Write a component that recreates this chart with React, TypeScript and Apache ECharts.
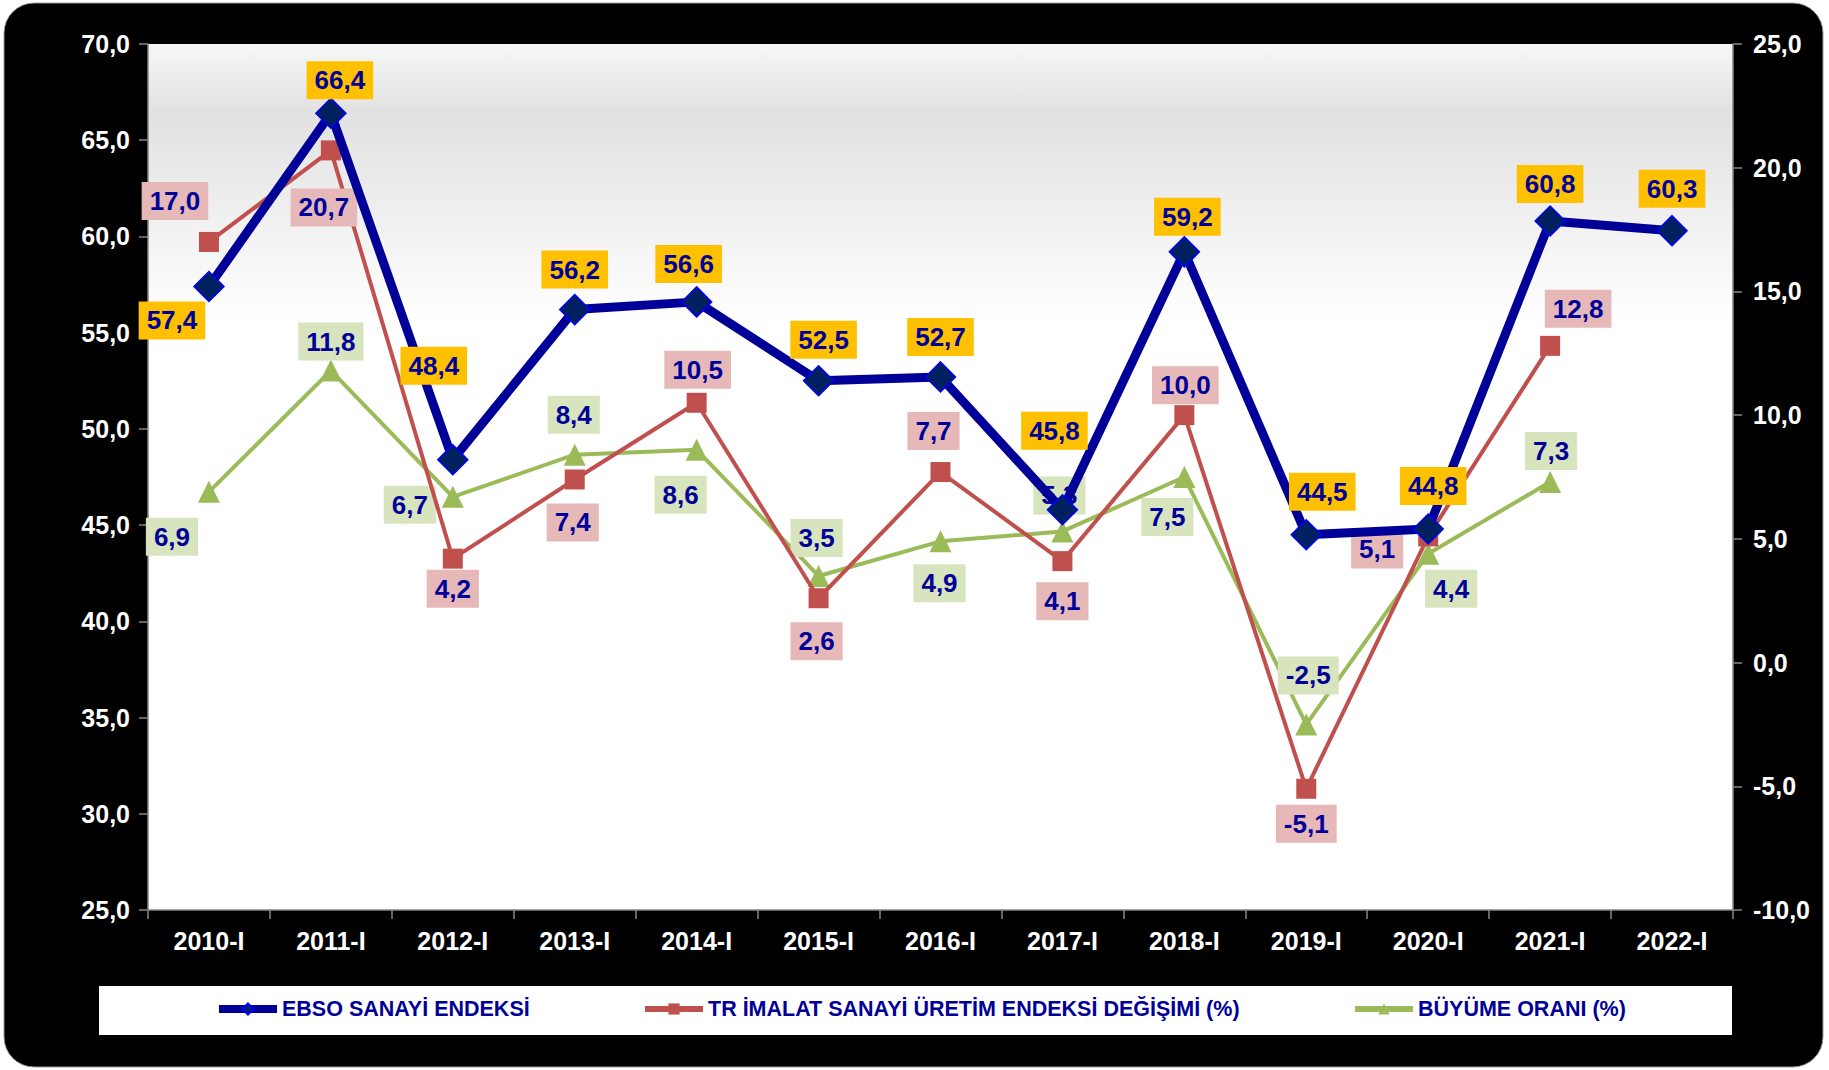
import React, { useEffect, useRef } from 'react';
import * as echarts from 'echarts';

const categories = ['2010-I', '2011-I', '2012-I', '2013-I', '2014-I', '2015-I', '2016-I', '2017-I', '2018-I', '2019-I', '2020-I', '2021-I', '2022-I'];
const ebsoValues = [57.4, 66.4, 48.4, 56.2, 56.6, 52.5, 52.7, 45.8, 59.2, 44.5, 44.8, 60.8, 60.3];
const trImalatValues = [17.0, 20.7, 4.2, 7.4, 10.5, 2.6, 7.7, 4.1, 10.0, -5.1, 5.1, 12.8, null];
const buyumeValues = [6.9, 11.8, 6.7, 8.4, 8.6, 3.5, 4.9, 5.3, 7.5, -2.5, 4.4, 7.3, null];

const leftAxisRange = { min: 25, max: 70, interval: 5 };
const rightAxisRange = { min: -10, max: 25, interval: 5 };

// label offsets (layout only, px relative to marker centre)
const ebsoLabelOffsets = [[-37, 34], [9, -33], [-19, -94], [0, -40], [-8, -38], [5, -41], [0, -40], [-8, -79], [3, -35], [16, -43], [5, -43], [0, -37], [0, -42]];
const trLabelOffsets = [[-34, -41], [-7, 57], [0, 30], [-2, 43], [1, -33], [-2, 43], [-7, -41], [0, 40], [1, -30], [0, 35], [-51, 13], [28, -37], [0, 0]];
const buyumeLabelOffsets = [[-37, 45], [0, -29], [-43, 8], [-1, -40], [-16, 45], [-2, -38], [-1, 42], [-3, -36], [-17, 40], [2, -49], [23, 35], [1, -31], [0, 0]];

const W = 1829;
const H = 1070;
const GRID = { left: 148, top: 44, right: 96, bottom: 160 };
const FONT = '"Liberation Sans", Arial, sans-serif';
const NAVY = '#000099';

const fmt = (v: number) => v.toFixed(1).replace('.', ',');

function mkData(values: (number | null)[], offsets: number[][]) {
  return values.map((v, i) => (v === null ? null : { value: v, label: { offset: offsets[i] } }));
}

function labelStyle(bg: string) {
  return {
    show: true,
    position: 'inside',
    formatter: (p: any) => fmt(p.value),
    backgroundColor: bg,
    color: NAVY,
    fontFamily: FONT,
    fontWeight: 'bold',
    fontSize: 26,
    padding: [7, 8, 5, 8],
  };
}

export default function App() {
  const ref = useRef<HTMLDivElement>(null);
  useEffect(() => {
    document.body.style.margin = '0';
    const chart = echarts.init(ref.current!, null, { renderer: 'svg' });
    const plotW = W - GRID.left - GRID.right;
    const plotH = H - GRID.top - GRID.bottom;
    const axisLabel = { color: '#ffffff', fontFamily: FONT, fontWeight: 'bold', fontSize: 25 };
    const axisLine = { show: true, onZero: false, lineStyle: { color: '#868686', width: 1.5 } };
    const axisTick = { show: true, length: 9, lineStyle: { color: '#868686', width: 1.5 } };
    const legendText = { color: NAVY, fontFamily: FONT, fontWeight: 'bold', fontSize: 21.5 };
    const legendBase = { top: 993, itemWidth: 58, itemHeight: 14, textStyle: legendText };
    chart.setOption({
      animation: false,
      backgroundColor: '#ffffff',
      graphic: [
        { type: 'rect', z: -10, shape: { x: 4, y: 3, width: W - 10, height: H - 6, r: 30 }, style: { fill: '#000000', stroke: '#9a9a9a', lineWidth: 1 } },
        {
          type: 'rect', z: -9,
          shape: { x: GRID.left, y: GRID.top, width: plotW, height: plotH },
          style: {
            fill: new echarts.graphic.LinearGradient(0, 0, 0, 1, [
              { offset: 0, color: '#f7f7f7' },
              { offset: 0.08, color: '#e1e1e1' },
              { offset: 0.32, color: '#ffffff' },
              { offset: 1, color: '#ffffff' },
            ]),
          },
        },
        { type: 'rect', z: -9, shape: { x: 99, y: 986, width: 1633, height: 49 }, style: { fill: '#ffffff' } },
      ],
      grid: { left: GRID.left, top: GRID.top, right: GRID.right, bottom: GRID.bottom, containLabel: false },
      legend: [
        { ...legendBase, data: ['EBSO SANAYİ ENDEKSİ'], left: 210, lineStyle: { width: 8 } },
        { ...legendBase, data: ['TR İMALAT SANAYİ ÜRETİM ENDEKSİ DEĞİŞİMİ (%)'], left: 637, lineStyle: { width: 6 } },
        { ...legendBase, data: ['BÜYÜME ORANI (%)'], left: 1347, lineStyle: { width: 6 } },
      ],
      xAxis: {
        type: 'category',
        data: categories,
        boundaryGap: true,
        axisLine,
        axisTick: { ...axisTick, alignWithLabel: false },
        axisLabel: { ...axisLabel, margin: 18 },
        splitLine: { show: false },
      },
      yAxis: [
        {
          type: 'value', position: 'left', ...leftAxisRange,
          axisLine, axisTick, splitLine: { show: false },
          axisLabel: { ...axisLabel, margin: 18, formatter: (v: number) => fmt(v) },
        },
        {
          type: 'value', position: 'right', ...rightAxisRange,
          axisLine, axisTick, splitLine: { show: false },
          axisLabel: { ...axisLabel, margin: 20, formatter: (v: number) => fmt(v) },
        },
      ],
      series: [
        {
          name: 'BÜYÜME ORANI (%)', type: 'line', yAxisIndex: 1,
          data: mkData(buyumeValues, buyumeLabelOffsets),
          symbol: 'triangle', symbolSize: 22,
          lineStyle: { color: '#9BBB59', width: 4 },
          itemStyle: { color: '#9BBB59' },
          label: labelStyle('#D7E4BD'),
          z: 2,
        },
        {
          name: 'TR İMALAT SANAYİ ÜRETİM ENDEKSİ DEĞİŞİMİ (%)', type: 'line', yAxisIndex: 1,
          data: mkData(trImalatValues, trLabelOffsets),
          symbol: 'rect', symbolSize: 20,
          lineStyle: { color: '#C0504D', width: 4 },
          itemStyle: { color: '#C0504D' },
          label: labelStyle('#E6B9B8'),
          z: 3,
        },
        {
          name: 'EBSO SANAYİ ENDEKSİ', type: 'line', yAxisIndex: 0,
          data: mkData(ebsoValues, ebsoLabelOffsets),
          symbol: 'diamond', symbolSize: 30,
          lineStyle: { color: '#000099', width: 9 },
          itemStyle: { color: '#002060', borderColor: '#0000FF', borderWidth: 1.5 },
          label: labelStyle('#FFC000'),
          z: 4,
        },
      ],
    });
    return () => chart.dispose();
  }, []);
  return <div ref={ref} style={{ width: W, height: H }} />;
}
